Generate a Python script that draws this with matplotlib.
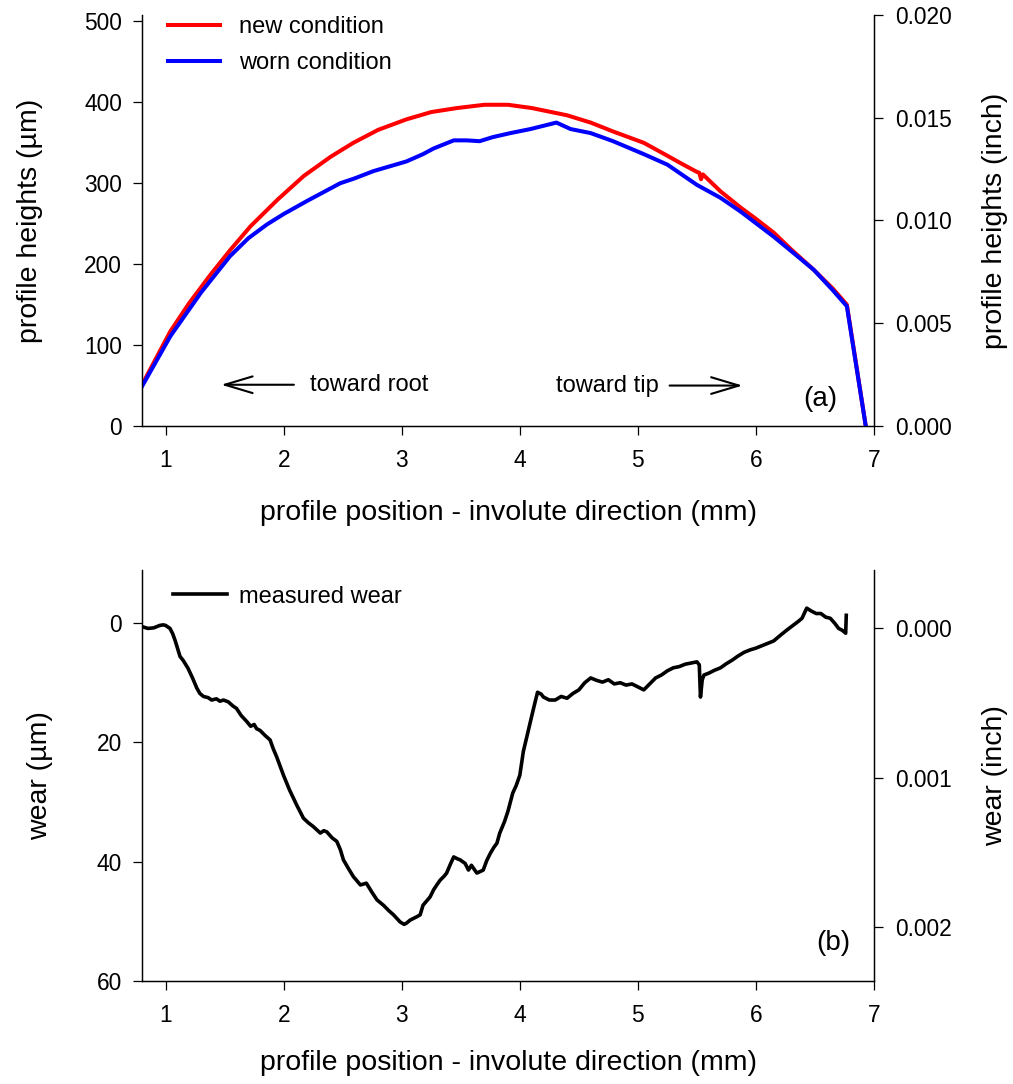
# Profile heights and wear along the involute direction
import matplotlib
matplotlib.use('Agg')
import matplotlib.pyplot as plt

plt.rcParams['font.family'] = ['Liberation Sans', 'DejaVu Sans']

# Data
new_x = [0.80, 1.04, 1.20, 1.38, 1.55, 1.72, 1.95, 2.17, 2.40, 2.59, 2.80, 3.04,
         3.25, 3.47, 3.70, 3.90, 4.10, 4.40, 4.60, 4.79, 5.05, 5.20, 5.36, 5.50,
         5.52, 5.535, 5.55, 5.70, 5.87, 6.00, 6.15, 6.30, 6.49, 6.65, 6.77, 6.93]
new_y = [51, 117, 152, 187, 218, 247, 280, 309, 333, 350, 366, 379,
         388, 393, 397, 397, 393, 384, 375, 364, 350, 338, 325, 314,
         313, 305, 311, 290, 270, 256, 239, 218, 193, 170, 150, 0]

worn_x = [0.80, 1.04, 1.30, 1.546, 1.70, 1.857, 2.00, 2.196, 2.35, 2.478, 2.60,
          2.76, 2.90, 3.04, 3.18, 3.27, 3.44, 3.55, 3.66, 3.77, 3.92, 4.09,
          4.20, 4.31, 4.43, 4.60, 4.79, 5.05, 5.25, 5.50, 5.70, 5.87, 6.15,
          6.30, 6.49, 6.65, 6.77, 6.93]
worn_y = [49, 111, 165, 210, 232, 249, 262, 278, 290, 300, 306,
          315, 321, 327, 336, 343, 353, 353, 352, 357, 362, 367,
          371, 375, 367, 362, 352, 336, 323, 298, 282, 265, 234,
          216, 193, 168, 148, 0]

wear_x = [0.80, 0.85, 0.90, 0.95, 0.98, 1.00, 1.037, 1.06, 1.08, 1.10, 1.122,
          1.15, 1.19, 1.23, 1.264, 1.29, 1.32, 1.36, 1.39, 1.43, 1.46, 1.49,
          1.53, 1.57, 1.60, 1.64, 1.687, 1.72, 1.75, 1.77, 1.80, 1.84, 1.885,
          1.91, 1.94, 1.97, 2.00, 2.05, 2.11, 2.167, 2.21, 2.25, 2.31, 2.34,
          2.365, 2.41, 2.45, 2.48, 2.506, 2.55, 2.59, 2.65, 2.70, 2.75, 2.79,
          2.845, 2.89, 2.93, 2.986, 3.02, 3.04, 3.07, 3.10, 3.13, 3.156, 3.18,
          3.21, 3.24, 3.27, 3.30, 3.325, 3.36, 3.38, 3.41, 3.44, 3.47, 3.495,
          3.537, 3.565, 3.59, 3.636, 3.67, 3.69, 3.72, 3.75, 3.78, 3.806, 3.83,
          3.87, 3.90, 3.94, 3.97, 4.00, 4.03, 4.06, 4.09, 4.12, 4.15, 4.18,
          4.20, 4.25, 4.30, 4.35, 4.40, 4.45, 4.50, 4.55, 4.60, 4.65, 4.70,
          4.75, 4.80, 4.85, 4.90, 4.95, 5.00, 5.05, 5.10, 5.15, 5.20, 5.25,
          5.30, 5.35, 5.40, 5.45, 5.50, 5.52, 5.53, 5.545, 5.56, 5.60, 5.65,
          5.70, 5.75, 5.80, 5.85, 5.90, 5.95, 6.00, 6.05, 6.10, 6.15, 6.21,
          6.26, 6.32, 6.36, 6.39, 6.43, 6.47, 6.51, 6.55, 6.59, 6.63, 6.67,
          6.70, 6.73, 6.76, 6.765]
wear_y = [0.6, 0.9, 0.8, 0.4, 0.3, 0.4, 0.9, 1.8, 2.9, 4.2, 5.6,
          6.3, 7.6, 9.3, 10.9, 11.8, 12.3, 12.5, 12.9, 12.7, 13.1, 12.9,
          13.2, 13.9, 14.3, 15.5, 16.5, 17.3, 17.0, 17.7, 18.0, 18.8, 19.6,
          21.0, 22.4, 24.0, 25.6, 28.0, 30.5, 32.7, 33.5, 34.1, 35.2, 34.8,
          35.0, 36.0, 36.6, 38.0, 39.7, 41.2, 42.5, 43.9, 43.6, 45.2, 46.4,
          47.3, 48.2, 48.9, 50.1, 50.5, 50.3, 49.8, 49.5, 49.2, 48.9, 47.3,
          46.6, 45.9, 44.7, 43.8, 43.1, 42.4, 41.9, 40.5, 39.2, 39.5, 39.7,
          40.3, 41.4, 40.6, 41.9, 41.6, 41.4, 39.8, 38.6, 37.6, 36.9, 35.2,
          33.3, 31.5, 28.5, 27.2, 25.5, 21.5, 19.0, 16.5, 14.0, 11.6, 11.9,
          12.4, 12.9, 12.9, 12.3, 12.6, 11.8, 11.2, 10.0, 9.2, 9.6, 9.9,
          9.5, 10.2, 10.0, 10.4, 10.2, 10.7, 11.2, 10.2, 9.2, 8.7, 8.0,
          7.5, 7.3, 6.9, 6.7, 6.5, 7.0, 12.4, 9.5, 8.7, 8.4, 7.9,
          7.5, 6.8, 6.2, 5.5, 4.9, 4.5, 4.2, 3.8, 3.4, 3.0, 2.0,
          1.2, 0.3, -0.3, -0.8, -2.5, -2.0, -1.6, -1.6, -1.0, -0.8, 0.1,
          0.9, 1.2, 1.7, -1.3]

x_ticks = [1, 2, 3, 4, 5, 6, 7]
height_ticks = [0, 100, 200, 300, 400, 500]
height_inch_ticks = [0.000, 0.005, 0.010, 0.015, 0.020]
wear_ticks = [0, 20, 40, 60]
wear_inch_ticks = [0.000, 0.001, 0.002]

LABEL_FS = 20.5
TICK_FS = 16.4
TEXT_FS = 17
PANEL_FS = 20


def style_axis(ax, twin):
    ax.spines['top'].set_visible(False)
    twin.spines['top'].set_visible(False)
    for a in (ax, twin):
        for s in a.spines.values():
            s.set_linewidth(0.9)
        a.tick_params(direction='out', length=6.5, width=0.9, labelsize=TICK_FS)
    ax.tick_params(axis='y', pad=8)
    ax.tick_params(axis='x', pad=10)
    twin.tick_params(axis='y', pad=8.5)
    ax.set_xlim(0.8, 7)
    ax.set_xticks(x_ticks)


def place_labels(ax, twin, left_x, right_x, bottom_y):
    ax.xaxis.label.set_va('center')
    ax.xaxis.set_label_coords(0.5, bottom_y)
    ax.yaxis.label.set_va('center')
    ax.yaxis.set_label_coords(left_x, 0.5)
    twin.yaxis.label.set_va('center')
    twin.yaxis.label.set_rotation(90)
    twin.yaxis.set_label_coords(right_x, 0.5)


fig = plt.figure(figsize=(10.13, 10.84), dpi=100)

# (a) profile heights
ax1 = fig.add_axes([0.1402, 0.6070, 0.7226, 0.3792])
ax1r = ax1.twinx()
style_axis(ax1, ax1r)
ax1.plot(new_x, new_y, color='#ff0000', lw=2.9, label='new condition', zorder=3)
ax1.plot(worn_x, worn_y, color='#0000ff', lw=2.9, label='worn condition', zorder=4)
ax1.set_ylim(0, 508)
ax1.set_yticks(height_ticks)
ax1r.set_ylim(0, 0.020)
ax1r.set_yticks(height_inch_ticks)
ax1r.set_yticklabels(['%.3f' % v for v in height_inch_ticks])
ax1.set_xlabel('profile position - involute direction (mm)', fontsize=LABEL_FS)
ax1.set_ylabel('profile heights (µm)', fontsize=LABEL_FS)
ax1r.set_ylabel('profile heights (inch)', fontsize=LABEL_FS)
place_labels(ax1, ax1r, (30 - 142) / 732, (995 - 142) / 732, -0.212)
ax1.legend(loc='upper left', bbox_to_anchor=(0.0355, 0.9963), frameon=False,
           fontsize=TEXT_FS, handlelength=2.2, handletextpad=0.8, labelspacing=0.58,
           borderpad=0, borderaxespad=0)

arrow_style = dict(arrowstyle='->, head_length=1.0, head_width=0.3',
                   lw=1.5, color='black', mutation_scale=20)
ax1.annotate('', xy=(1.447, 51), xytext=(2.11, 51), arrowprops=arrow_style)
ax1.text(2.22, 51, 'toward root', fontsize=TEXT_FS, ha='left', va='center')
ax1.annotate('', xy=(5.91, 50), xytext=(5.245, 50), arrowprops=arrow_style)
ax1.text(4.31, 50, 'toward tip', fontsize=TEXT_FS, ha='left', va='center')
ax1.text(6.40, 34, '(a)', fontsize=PANEL_FS, ha='left', va='center')

# (b) measured wear
ax2 = fig.add_axes([0.1402, 0.0950, 0.7226, 0.3792])
ax2r = ax2.twinx()
style_axis(ax2, ax2r)
ax2.plot(wear_x, wear_y, color='black', lw=2.6, label='measured wear')
ax2.set_ylim(60, -8.9)
ax2.set_yticks(wear_ticks)
ax2r.set_ylim(0.00236, -0.000388)
ax2r.set_yticks(wear_inch_ticks)
ax2r.set_yticklabels(['%.3f' % v for v in wear_inch_ticks])
ax2.set_xlabel('profile position - involute direction (mm)', fontsize=LABEL_FS)
ax2.set_ylabel('wear (µm)', fontsize=LABEL_FS)
ax2r.set_ylabel('wear (inch)', fontsize=LABEL_FS)
place_labels(ax2, ax2r, (40 - 142) / 732, (995 - 142) / 732, -0.1995)
ax2.legend(loc='upper left', bbox_to_anchor=(0.0423, 0.962), frameon=False,
           fontsize=TEXT_FS, handlelength=2.3, handletextpad=0.5,
           borderpad=0, borderaxespad=0)
ax2.text(6.51, 53.7, '(b)', fontsize=PANEL_FS, ha='left', va='center')

fig.savefig('out.png', dpi=100)
